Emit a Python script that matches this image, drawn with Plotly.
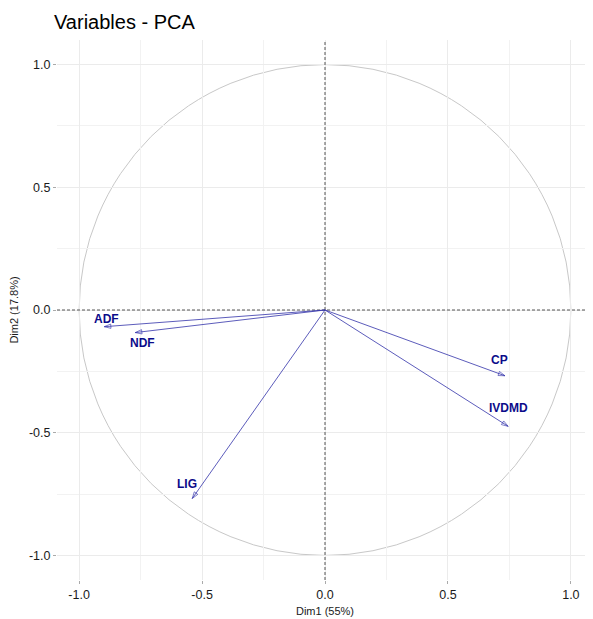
import plotly.graph_objects as go

variables = ["ADF", "NDF", "LIG", "CP", "IVDMD"]
dim1 = [-0.898, -0.772, -0.540, 0.732, 0.745]
dim2 = [-0.068, -0.092, -0.768, -0.268, -0.474]
x_ticks = [-1.0, -0.5, 0.0, 0.5, 1.0]
y_ticks = [-1.0, -0.5, 0.0, 0.5, 1.0]
tick_text = ["-1.0", "-0.5", "0.0", "0.5", "1.0"]
x_range = [-1.09, 1.09]
y_range = [-1.1, 1.1]

# label pixel offsets (style)
label_shift = {"ADF": (2, 8), "NDF": (7, -10), "LIG": (-5, 15), "CP": (-5, 16), "IVDMD": (0, 18)}

arrow_col = "#3232aa"
text_col = "#0b0b8a"
FONT = "Liberation Sans, Arial"

fig = go.Figure()

# zero reference lines
dash_style = dict(color="#555555", width=1, dash="3px,2px")
fig.add_trace(go.Scatter(x=[0, 0], y=y_range, mode="lines", line=dash_style,
                         hoverinfo="skip", showlegend=False))
fig.add_trace(go.Scatter(x=x_range, y=[0, 0], mode="lines", line=dash_style,
                         hoverinfo="skip", showlegend=False))

for name, x, y in zip(variables, dim1, dim2):
    fig.add_trace(go.Scatter(
        x=[0, x], y=[0, y], mode="lines+markers",
        line=dict(color=arrow_col, width=0.8),
        marker=dict(symbol="arrow-open", size=[0, 7], angleref="previous",
                    color=arrow_col, line=dict(color=arrow_col, width=0.9), standoff=0),
        hoverinfo="skip", showlegend=False))
    dx, dy = label_shift[name]
    fig.add_annotation(x=x, y=y, text="<b>%s</b>" % name, showarrow=False,
                       xshift=dx, yshift=dy,
                       font=dict(family=FONT, size=12, color=text_col))

# unit circle
fig.add_shape(type="circle", x0=-1, y0=-1, x1=1, y1=1, xref="x", yref="y",
              line=dict(color="#c8c8c8", width=1), layer="below")

axis_common = dict(
    showgrid=True, gridcolor="#ebebeb", gridwidth=1,
    minor=dict(showgrid=True, gridcolor="#f2f2f2", gridwidth=1, dtick=0.25),
    zeroline=False, showline=False,
    ticks="outside", ticklen=3, tickcolor="#aaaaaa",
    tickfont=dict(family=FONT, size=12.5, color="#1a1a1a"),
)

fig.update_xaxes(range=x_range, tickvals=x_ticks, ticktext=tick_text,
                 title=dict(text="Dim1 (55%)", font=dict(family=FONT, size=11, color="#1a1a1a"), standoff=6),
                 **axis_common)
fig.update_yaxes(range=y_range, tickvals=y_ticks, ticktext=tick_text,
                 title=dict(text="Dim2 (17.8%)", font=dict(family=FONT, size=11, color="#1a1a1a"), standoff=8),
                 **axis_common)

fig.update_layout(
    width=585, height=611,
    margin=dict(l=49, r=0, t=32, b=39),
    plot_bgcolor="white", paper_bgcolor="white",
    title=dict(text="Variables - PCA", x=46/585, xref="container", xanchor="left",
               y=1-14/611, yanchor="middle",
               font=dict(family=FONT, size=20, color="#000000")),
)

fig.write_html("out.html")
